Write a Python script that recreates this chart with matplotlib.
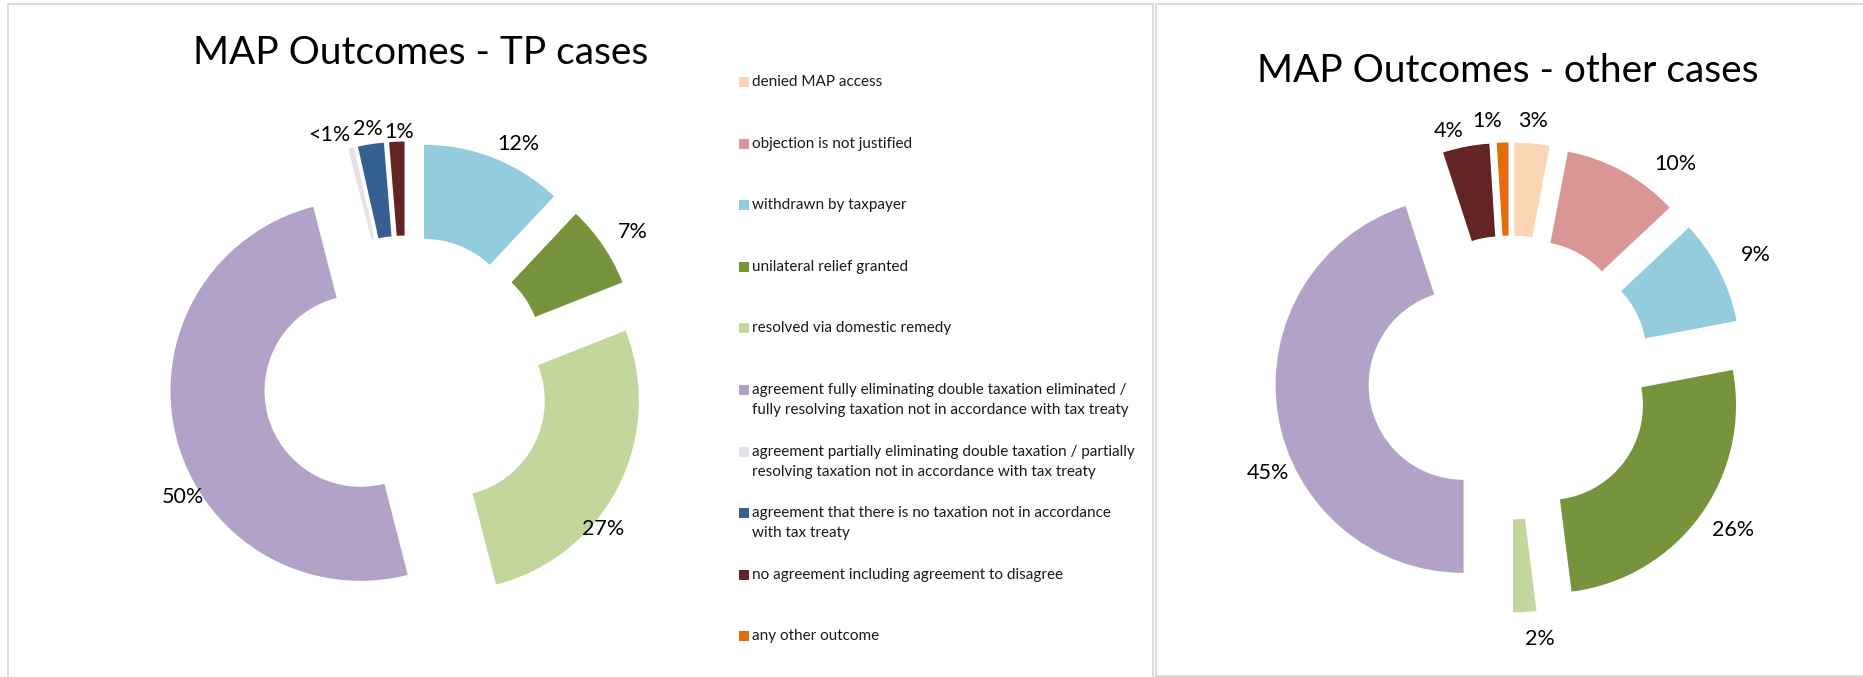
import numpy as np
import matplotlib.pyplot as plt
from matplotlib.lines import Line2D
from matplotlib.patches import Rectangle

plt.rcParams['font.family'] = ['Lato', 'DejaVu Sans']

# outcome categories (legend order = slice order, clockwise from 12 o'clock)
outcomes = [
    'denied MAP access',
    'objection is not justified',
    'withdrawn by taxpayer',
    'unilateral relief granted',
    'resolved via domestic remedy',
    'agreement fully eliminating double taxation eliminated /\nfully resolving taxation not in accordance with tax treaty',
    'agreement partially eliminating double taxation / partially\nresolving taxation not in accordance with tax treaty',
    'agreement that there is no taxation not in accordance\nwith tax treaty',
    'no agreement including agreement to disagree',
    'any other outcome',
]
colors = ['#FCD5B5', '#D99694', '#93CDDD', '#77933C', '#C3D69B',
          '#B3A2C7', '#E6E0EC', '#376092', '#632523', '#E46C0A']

# shares (%)
tp_values = [0, 0, 12, 7, 27, 50, 0.5, 2.2, 1.3, 0]
tp_labels = ['', '', '12%', '7%', '27%', '50%', '<1%', '2%', '1%', '']
other_values = [3, 10, 9, 26, 2, 45, 0, 0, 4, 1]
other_labels = ['3%', '10%', '9%', '26%', '2%', '45%', '', '', '4%', '1%']

# label placement tweaks: clockwise angle shift (deg) and distance (x radius)
tp_shift = [0, 0, 4.7, 1.5, 12.8, -16.6, -5.0, -0.2, 0.9, 0]
tp_dist = [1.1, 1.1, 1.12, 1.17, 1.06, 1.09, 1.10, 1.08, 1.05, 1.1]
other_shift = [-0.4, 10.8, 0.7, -2.0, -3.6, -15.3, 0, 0, -4.0, -4.0]
other_dist = [1.12, 1.19, 1.21, 1.19, 1.15, 1.14, 1.1, 1.1, 1.10, 1.12]

W, H = 1863, 677
fig = plt.figure(figsize=(W / 100, H / 100), dpi=100)


def donut(cx, cy, r, values, labels, shift, dist):
    k = 1.45
    ax = fig.add_axes([(cx - k * r) / W, (H - cy - k * r) / H, 2 * k * r / W, 2 * k * r / H])
    keep = [i for i, v in enumerate(values) if v > 0]
    wedges, _ = ax.pie([values[i] for i in keep], colors=[colors[i] for i in keep],
                       startangle=90, counterclock=False, explode=[0.25] * len(keep),
                       wedgeprops=dict(width=0.495, linewidth=0))
    ax.set_xlim(-k, k)
    ax.set_ylim(-k, k)
    for w, i in zip(wedges, keep):
        mid = np.deg2rad((w.theta1 + w.theta2) / 2 - shift[i])
        x0, y0 = w.center
        ax.text(x0 + dist[i] * np.cos(mid), y0 + dist[i] * np.sin(mid), labels[i],
                ha='center', va='center', fontsize=15.5, color='black')
    ax.axis('off')
    return ax


donut(406.5, 379, 190, tp_values, tp_labels, tp_shift, tp_dist)
donut(1510, 377.5, 188, other_values, other_labels, other_shift, other_dist)

# titles
fig.text(421 / W, 1 - 53 / H, 'MAP Outcomes - TP cases', ha='center', va='center', fontsize=28)
fig.text(1508 / W, 1 - 71 / H, 'MAP Outcomes - other cases', ha='center', va='center', fontsize=28)

# legend (drawn by hand to keep Excel spacing)
leg_x, leg_y, leg_step, line_h = 739, 82, 61.6, 20
for i, (name, c) in enumerate(zip(outcomes, colors)):
    y = leg_y + i * leg_step
    fig.add_artist(Rectangle((leg_x / W, 1 - (y + 5) / H), 10 / W, 10 / H,
                             transform=fig.transFigure, color=c, lw=0))
    for j, line in enumerate(name.split('\n')):
        fig.text((leg_x + 13) / W, 1 - (y + j * line_h) / H, line,
                 ha='left', va='center', fontsize=11, color='#1a1a1a')

# chart borders
border = dict(color='#D9D9D9', lw=1.3, transform=fig.transFigure)
def hline(x0, x1, y):
    fig.add_artist(Line2D([x0 / W, x1 / W], [1 - y / H, 1 - y / H], **border))
def vline(x, y0, y1):
    fig.add_artist(Line2D([x / W, x / W], [1 - y0 / H, 1 - y1 / H], **border))

hline(8, 1153, 4)
vline(8, 4, 677)
vline(1153, 4, 677)
hline(1156, 1863, 4)
vline(1156, 4, 676)
hline(1156, 1863, 676)

fig.savefig('out.png', dpi=100, facecolor='white')
